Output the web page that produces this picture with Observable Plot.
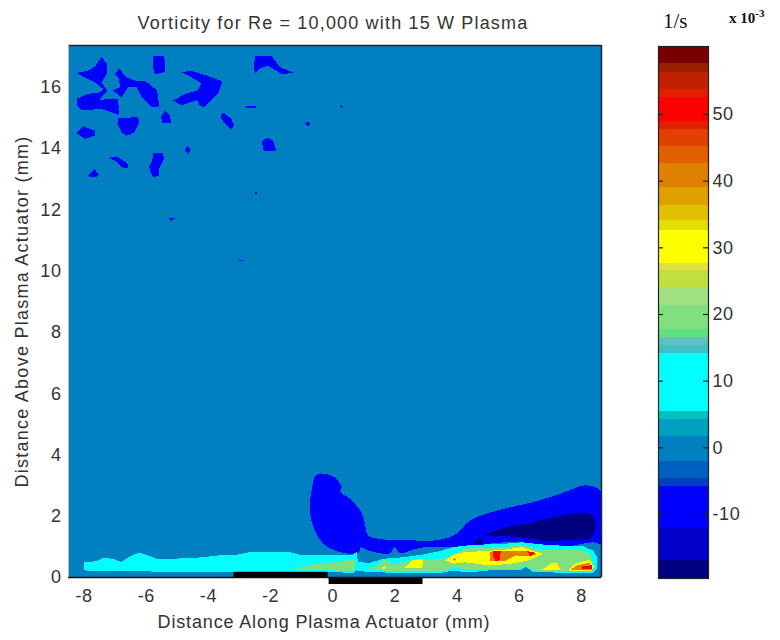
<!DOCTYPE html>
<html><head><meta charset="utf-8">
<script src="https://cdn.jsdelivr.net/npm/d3@7"></script>
<script src="https://cdn.jsdelivr.net/npm/@observablehq/plot@0.6"></script>
<style>
html,body{margin:0;padding:0;background:#fff}
#page{position:relative;width:780px;height:640px;overflow:hidden;font-family:"Liberation Sans",Arial,sans-serif;color:#333}
#main,#bar{position:absolute;top:0}
#main{left:0}#bar{left:640px}
.t{position:absolute;white-space:nowrap}
svg{background:transparent!important}
[aria-label="text"] text{letter-spacing:.85px}
[aria-label="y-axis label"] text{letter-spacing:1.25px}
[aria-label$="tick label"] text{letter-spacing:.6px}
</style></head><body>
<div id="page">
<div id="main"></div><div id="bar"></div>
<div class="t" id="title" style="left:0;width:666px;text-align:center;top:13px;font-size:18px;letter-spacing:1.17px">Vorticity for Re = 10,000 with 15 W Plasma</div>
<div class="t" style="left:663px;top:9px;font:21px 'Liberation Serif',serif;color:#111">1/s</div>
<div class="t" style="left:729px;top:10px;font:bold 15px 'Liberation Serif',serif;color:#111">x 10<sup style="font-size:11px;line-height:0">-3</sup></div>
</div>
<script>
// colour levels of the contour map (1/s x 10^-3)
const levelEdges=[-19.6,-16.9,-12.05,-5.75,-4.55,-2.05,1.7,4.2,5.4,14.1,15.3,16.6,17.7,21.4,24,26.6,27.7,32.6,34.1,36.3,39,42.6,45.2,47.7,48.9,52.6,53.8,56.3,57.6,60.2];
const levelColors=["#000080","#0000c8","#0000ff","#0040c0","#0060c0","#0080c0","#00a0c0","#00c0c0","#00ffff","#40c0c0","#60c0c0","#60e080","#80e080","#a0e080","#c0e040","#e0e040","#ffff00","#e0e000","#e0c000","#e0a000","#e08000","#e06000","#e04000","#e02000","#ff0000","#e02000","#c02000","#9a2000","#780000"];
const barTicks=[-10,0,10,20,30,40,50];
const xTicks=[-8,-6,-4,-2,0,2,4,6,8];
const yTicks=[0,2,4,6,8,10,12,14,16];
const xDomain=[-8.5,8.64], yDomain=[0,17.37];

// contour boundaries: [distance along (mm), distance above (mm)]
const blueBlobs=[
[[-8.24,16.47],[-7.87,16.55],[-7.65,16.68],[-7.44,17.01],[-7.25,16.75],[-7.25,16.47],[-7.44,16.17],[-7.25,15.9],[-7.5,15.6],[-6.9,15.63],[-6.88,15.11],[-7.44,15.3],[-8.08,15.25],[-8.24,15.41],[-8.24,15.63],[-7.87,15.79],[-7.5,15.84],[-7.38,15.95],[-7.65,16.17],[-7.87,16.28]],
[[-7.03,16.44],[-6.87,16.61],[-6.63,16.33],[-6.31,16.2],[-6.01,16.2],[-5.65,15.9],[-5.58,15.35],[-5.83,15.35],[-6.15,15.68],[-6.31,16.01],[-6.58,16.01],[-6.8,15.68],[-7.08,15.9],[-6.85,16.01],[-6.87,16.28]],
[[-5.78,17.04],[-5.43,17.04],[-5.38,16.77],[-5.4,16.5],[-5.72,16.42],[-5.78,16.66]],
[[-4.87,16.5],[-4.54,16.55],[-4.06,16.39],[-3.55,16.2],[-3.69,15.79],[-4.15,15.35],[-4.28,15.41],[-4.36,15.59],[-4.87,15.41],[-5.13,15.57],[-4.76,15.79],[-4.36,15.9],[-4.22,16.12],[-4.54,16.33]],
[[-2.48,17.04],[-1.97,17.04],[-1.7,16.66],[-1.22,16.47],[-1.65,16.44],[-2.08,16.71],[-2.35,16.61],[-2.51,16.46],[-2.54,16.77]],
[[-2.78,15.39],[-2.48,15.39],[-2.48,15.33],[-2.78,15.33]],
[[.28,15.42],[.33,15.37],[.28,15.32],[.23,15.37]],
[[-.81,14.89],[-.72,14.81],[-.81,14.73],[-.9,14.81]],
[[-5.4,15.25],[-5.24,15.08],[-5.19,14.84],[-5.48,14.84],[-5.53,15.05]],
[[-3.53,15.19],[-3.26,14.97],[-3.18,14.76],[-3.26,14.63],[-3.47,14.81],[-3.61,15.03]],
[[-6.9,15],[-6.26,15.03],[-6.23,14.86],[-6.37,14.54],[-6.63,14.42],[-6.8,14.54],[-6.93,14.81]],
[[-8.03,14.73],[-7.65,14.59],[-7.65,14.43],[-7.97,14.32],[-8.24,14.5]],
[[-2.11,14.37],[-1.92,14.27],[-1.81,13.92],[-2.22,13.92],[-2.29,14.24]],
[[-4.67,14.08],[-4.56,13.96],[-4.67,13.84],[-4.78,13.96]],
[[-7.22,13.7],[-6.96,13.75],[-6.69,13.59],[-6.58,13.48],[-6.6,13.36],[-6.8,13.4],[-7.01,13.61]],
[[-5.78,13.85],[-5.46,13.85],[-5.43,13.67],[-5.58,13.34],[-5.58,13.12],[-5.78,13.07],[-5.86,13.23],[-5.91,13.42],[-5.81,13.61]],
[[-7.67,13.34],[-7.52,13.16],[-7.6,13.07],[-7.81,13.07],[-7.89,13.12]],
[[-2.47,12.62],[-2.43,12.56],[-2.47,12.5],[-2.51,12.56]],
[[-5.29,11.73],[-5.08,11.73],[-5.19,11.63]],
[[-3.04,10.37],[-2.88,10.37],[-2.88,10.33],[-3.04,10.33]]
];
const bluePlume=[[-.53,3.36],[-.15,3.36],[.12,3.22],[.28,2.95],[.25,2.79],[.55,2.57],[.92,2.13],[1.03,1.75],[1.14,1.37],[1.51,1.26],[2.58,1.21],[3.44,1.23],[3.98,1.43],[4.41,1.86],[5.37,2.21],[6.44,2.46],[7.3,2.73],[8.05,3],[8.37,2.97],[8.64,2.79],[8.64,1.1],[8.37,1.15],[7.51,1.01],[6.87,1.04],[6.07,1.15],[5.16,1.12],[4.73,1.04],[4.08,.97],[3.23,1.01],[2.69,.94],[2.15,.79],[1.99,.99],[1.83,.79],[1.08,.9],[.92,.99],[.81,.79],[.12,.86],[-.31,1.1],[-.58,1.53],[-.74,2.19],[-.69,2.79]];
const navyCore=[
[[4.89,1.37],[5.58,1.64],[6.33,1.77],[7.19,1.99],[8.16,2.11],[8.39,1.99],[8.44,1.59],[8.29,1.28],[7.51,1.23],[6.92,1.18],[6.23,1.29],[5.37,1.36]],
[[4.51,1.12],[4.78,1.26],[4.78,1.1]]
];
const cyanBand=[[-8.01,.5],[-7.6,.53],[-7.38,.64],[-7.06,.61],[-6.8,.5],[-6.47,.72],[-6.21,.81],[-5.94,.72],[-5.67,.61],[-5.13,.61],[-4.17,.66],[-3.53,.74],[-3.2,.72],[-2.67,.83],[-1.38,.83],[-1.06,.74],[-.31,.72],[-.1,.72],[.65,.75],[.76,.83],[.81,.5],[1.19,.48],[1.62,.61],[2.26,.66],[2.9,.75],[3.44,.86],[3.87,.99],[4.24,1.04],[4.89,1.08],[5.53,1.1],[6.07,1.15],[6.71,1.08],[7.35,1.04],[8,1.04],[8.37,.88],[8.5,.66],[8.48,.28],[8.35,.15],[6.44,.17],[6.23,.34],[5.96,.23],[5.1,.25],[4.89,.21],[4.24,.17],[3.87,.23],[3.44,.14],[1.19,.17],[.76,.23],[.65,.14],[.23,.17],[-.15,.17],[-3.26,.17],[-4.49,.17],[-6.63,.21],[-8.01,.23]];
const greenPatches=[
[[-1.33,.26],[-.53,.45],[.12,.5],[.32,.55],[.71,.58],[.71,.23],[.23,.21],[-.2,.26]],
[[1.14,.28],[1.51,.45],[1.67,.61],[1.89,.45],[2.05,.45],[2.48,.55],[3.55,.61],[3.87,.75],[4.24,.94],[4.89,.97],[5.53,.99],[6.07,1.08],[6.76,.88],[7.24,.9],[7.89,.94],[8.26,.77],[8.37,.45],[8.26,.23],[7.57,.21],[6.44,.23],[6.17,.39],[5.96,.28],[5,.28],[4.24,.28],[3.87,.32],[3.55,.21],[2.9,.21],[1.51,.23]]
];
const yellowPatches=[
[[2.28,.3],[2.58,.58],[2.9,.6],[2.88,.32]],
[[1.59,.32],[1.65,.37],[1.71,.32],[1.65,.27]],
[[3.6,.55],[3.92,.75],[4.24,.83],[4.89,.86],[5.53,.91],[6.07,.99],[6.76,.77],[6.28,.55],[5.74,.45],[5.05,.39],[4.24,.5],[3.92,.45]],
[[6.69,.23],[7.05,.48],[7.19,.48],[7.35,.23]],
[[7.57,.23],[7.78,.45],[8.26,.58],[8.4,.34],[8.34,.21]]
];
const orangePatches=[
[[3.87,.58],[3.92,.63],[3.97,.58],[3.92,.53]],
[[5.05,.83],[5.42,.88],[6.17,.88],[6.54,.75],[6.28,.69],[5.91,.72],[5.53,.53],[5.05,.53]],
[[7.65,.25],[7.83,.39],[8.26,.48],[8.37,.25]]
];
const redPatches=[
[[5.15,.88],[5.4,.88],[5.37,.58],[5.23,.53],[5.15,.72]],
[[6.23,.86],[6.52,.81],[6.37,.69]],
[[8.02,.36],[8.32,.4],[8.34,.29],[8.02,.29]]
];
// plasma actuator electrodes: along-start, along-end, height-start, height-end
const electrodes=[[-3.18,-.15,0,.17],[-.12,2.9,-.23,0]];

function ringPoints(regions){
  const out=[];
  regions.forEach(([value,rings],i)=>rings.forEach((ring,j)=>ring.forEach(([x,y])=>out.push({x,y,value,id:i+"-"+j}))));
  return out;
}
const blobPoints=ringPoints([[-8,blueBlobs]]);
const plumePoints=ringPoints([[-8,[bluePlume]],[-18,navyCore]]);
const bandPoints=ringPoints([[10,[cyanBand]],[20,greenPatches],[30,yellowPatches],[40,orangePatches],[50,redPatches]]);
const color={type:"threshold",domain:levelEdges.slice(1,-1),range:levelColors};
const ink="#333", font={fontFamily:"'Liberation Sans',Arial,sans-serif",fontSize:"16px",background:"transparent"};
const tf=d=>String(d);
const region={x:"x",y:"y",z:"id",fill:"value",stroke:"none",clip:true,shapeRendering:"crispEdges"};

document.getElementById("main").append(Plot.plot({
  width:640,height:640,marginLeft:68,marginRight:39,marginTop:45,marginBottom:63,
  style:font,color,
  x:{domain:xDomain},y:{domain:yDomain},
  marks:[
    Plot.frame({fill:"#0080c0",stroke:"none"}),
    Plot.line(blobPoints,region),
    Plot.line(plumePoints,{...region,curve:"catmull-rom-closed"}),
    Plot.line(bandPoints,region),
    Plot.rect(electrodes,{x1:d=>d[0],x2:d=>d[1],y1:d=>d[2],y2:d=>d[3],fill:"black"}),
    Plot.ruleY([yDomain[1]],{stroke:"#223",strokeWidth:1.5}),
    Plot.ruleY([0],{stroke:"#111",strokeWidth:1.5}),
    Plot.ruleX([xDomain[1]],{stroke:"#223",strokeWidth:1.5}),
    Plot.ruleX([xDomain[0]],{stroke:"#bbb",strokeWidth:1}),
    Plot.axisX(xTicks,{anchor:"bottom",tickSize:0,tickPadding:12,tickFormat:tf,color:ink,fontSize:18,label:null}),
    Plot.text(["Distance Along Plasma Actuator (mm)"],{frameAnchor:"bottom",dx:-11,dy:50,fontSize:18,fill:ink}),
    Plot.axisY(yTicks,{anchor:"left",tickSize:0,tickPadding:7,tickFormat:tf,color:ink,fontSize:18,label:"Distance Above Plasma Actuator (mm)",labelAnchor:"center",labelOffset:53,labelArrow:"none"})
  ]
}));

const bands=levelColors.map((c,i)=>({y1:levelEdges[i],y2:levelEdges[i+1],mid:(levelEdges[i]+levelEdges[i+1])/2}));
document.getElementById("bar").append(Plot.plot({
  width:140,height:640,marginLeft:18,marginRight:72,marginTop:46,marginBottom:62,
  style:font,color,
  x:{domain:[0,1],axis:null},y:{domain:[levelEdges[0],levelEdges[levelEdges.length-1]]},
  marks:[
    Plot.rect(bands,{x1:0,x2:1,y1:"y1",y2:"y2",fill:"mid",shapeRendering:"crispEdges"}),
    Plot.ruleY(barTicks,{x1:0,x2:.1,stroke:"#222",strokeWidth:1.2}),
    Plot.ruleY(barTicks,{x1:.9,x2:1,stroke:"#222",strokeWidth:1.2}),
    Plot.frame({stroke:"#222",strokeWidth:1.2}),
    Plot.axisY(barTicks,{anchor:"right",tickSize:0,tickPadding:4,tickFormat:tf,color:ink,fontSize:18,label:null})
  ]
}));
</script></body></html>
